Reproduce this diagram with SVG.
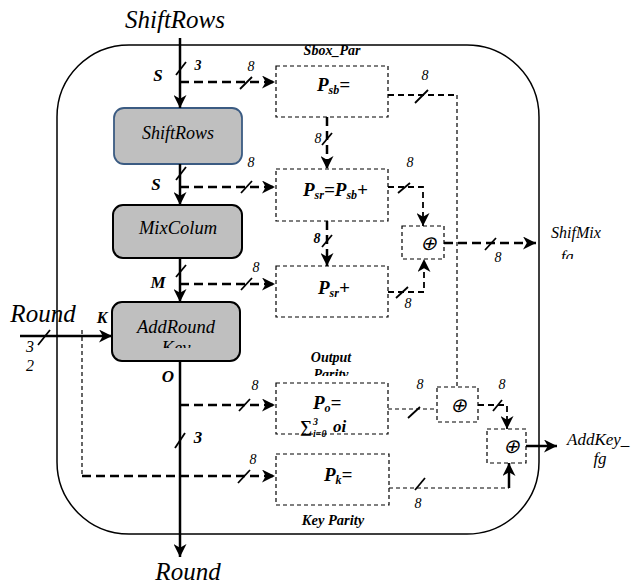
<svg xmlns="http://www.w3.org/2000/svg" width="636" height="586" viewBox="0 0 636 586">
<style>
text{font-family:"Liberation Serif","Times New Roman",serif;font-style:italic;fill:#000}
.b{font-weight:bold}
.big{font-size:25px}
.lbl{font-size:14px}
.box{fill:#bfbfbf;stroke:#000;stroke-width:2}
.pbox{fill:none;stroke:#000;stroke-width:1.2;stroke-dasharray:4 3}
.solid{fill:none;stroke:#000;stroke-width:2.5}
.thick{fill:none;stroke:#000;stroke-width:2.5;stroke-dasharray:9 5}
.med{fill:none;stroke:#000;stroke-width:1.8;stroke-dasharray:6 4}
.thin{fill:none;stroke:#000;stroke-width:1.2;stroke-dasharray:4 3}
.sl{stroke:#000;stroke-width:1.8}
</style>
<defs>
<marker id="ah" viewBox="0 0 12 12" refX="12" refY="6" markerWidth="13" markerHeight="13" markerUnits="userSpaceOnUse" orient="auto">
<path d="M0,0 L12,6 L0,12 L3.5,6 z" fill="#000"/>
</marker>
<clipPath id="cParity"><rect x="290" y="360" width="90" height="16"/></clipPath>
<clipPath id="cKey"><rect x="120" y="335" width="110" height="13"/></clipPath>
<clipPath id="cFg"><rect x="550" y="245" width="40" height="14"/></clipPath>
</defs>

<rect x="57" y="45" width="482" height="489" rx="72" fill="none" stroke="#000" stroke-width="1.5"/>

<g id="title-top"><text class="big" x="175" y="28" text-anchor="middle">ShiftRows</text></g>
<g id="title-bottom"><text class="big" x="188" y="580" text-anchor="middle">Round</text></g>
<g id="title-round"><text class="big" x="43" y="322" text-anchor="middle">Round</text></g>

<g id="shiftrows"><rect x="114" y="108" width="128" height="56" rx="10" fill="#bfbfbf" stroke="#3b5b82" stroke-width="1.8"/><text x="178" y="139" font-size="18" text-anchor="middle">ShiftRows</text></g>
<g id="mixcolum"><rect class="box" x="113" y="205" width="129" height="53" rx="10"/><text x="178" y="234" font-size="18.5" text-anchor="middle">MixColum</text></g>
<g id="addround"><rect class="box" x="112" y="302" width="128" height="59" rx="10"/><text x="176" y="333" font-size="18.5" text-anchor="middle">AddRound</text><text x="176" y="354" font-size="18.5" text-anchor="middle" clip-path="url(#cKey)">Key</text></g>

<g id="psb"><rect class="pbox" x="276" y="66" width="112" height="51"/><text class="b" x="317" y="91" font-size="19">P<tspan font-size="12" dy="3">sb</tspan><tspan dy="-3">=</tspan></text><text class="b" x="332" y="55" font-size="14" text-anchor="middle">Sbox_Par</text></g>
<g id="psr"><rect class="pbox" x="276" y="169" width="112" height="52"/><text class="b" x="303" y="196" font-size="19">P<tspan font-size="12" dy="3">sr</tspan><tspan dy="-3">=P</tspan><tspan font-size="12" dy="3">sb</tspan><tspan dy="-3">+</tspan></text></g>
<g id="pmc"><rect class="pbox" x="276" y="266" width="112" height="51"/><text class="b" x="318" y="294" font-size="19">P<tspan font-size="12" dy="3">sr</tspan><tspan dy="-3">+</tspan></text></g>
<g id="po"><rect class="pbox" x="276" y="383" width="112" height="51"/><text class="b" x="313" y="409" font-size="19">P<tspan font-size="12" dy="3">o</tspan><tspan dy="-3">=</tspan></text><text class="b" x="300" y="432" font-size="17">∑<tspan font-size="10" x="313" y="425">3</tspan><tspan font-size="10" x="313" y="437">i=0</tspan><tspan x="333" y="432">oi</tspan></text><text class="b" x="331" y="362" font-size="14" text-anchor="middle">Output</text><text class="b" x="331" y="379" font-size="14" text-anchor="middle" clip-path="url(#cParity)">Parity</text></g>
<g id="pk"><rect class="pbox" x="276" y="454" width="113" height="51"/><text class="b" x="324" y="481" font-size="19">P<tspan font-size="12" dy="3">k</tspan><tspan dy="-3">=</tspan></text><text class="b" x="333" y="525" font-size="14.5" text-anchor="middle">Key Parity</text></g>

<g id="xor1"><rect class="pbox" x="402" y="226" width="42" height="33"/><text x="428" y="250" font-size="20" font-style="normal" font-family="DejaVu Sans" text-anchor="middle">⊕</text></g>
<g id="xor2"><rect class="pbox" x="437" y="387" width="41" height="35"/><text x="458" y="412" font-size="20" font-style="normal" font-family="DejaVu Sans" text-anchor="middle">⊕</text></g>
<g id="xor3"><rect class="pbox" x="487" y="429" width="39" height="34"/><text x="511" y="453" font-size="20" font-style="normal" font-family="DejaVu Sans" text-anchor="middle">⊕</text></g>

<g id="out-shifmix"><text x="551" y="238" font-size="16">ShifMix</text><text x="561" y="262" font-size="16" clip-path="url(#cFg)">fg</text></g>
<g id="out-addkey"><text x="567" y="445" font-size="17">AddKey_</text><text x="600" y="464" font-size="17" text-anchor="middle">fg</text></g>

<g id="connectors">
<path class="solid" d="M180,38 V108" marker-end="url(#ah)"/>
<path class="solid" d="M180,164 V205" marker-end="url(#ah)"/>
<path class="solid" d="M180,258 V302" marker-end="url(#ah)"/>
<path class="solid" d="M180,361 V557" marker-end="url(#ah)"/>
<path class="solid" d="M20,336 H112" marker-end="url(#ah)"/>

<path class="thick" d="M180,82 H275" marker-end="url(#ah)"/>
<path class="thick" d="M180,187 H275" marker-end="url(#ah)"/>
<path class="thick" d="M180,284 H275" marker-end="url(#ah)"/>
<path class="thick" d="M180,405 H275" marker-end="url(#ah)"/>
<path class="thin" d="M82,330 V476"/>
<path class="thick" d="M82,476 H275" marker-end="url(#ah)"/>

<path class="thick" d="M327,117 V169" marker-end="url(#ah)"/>
<path class="thick" d="M327,221 V266" marker-end="url(#ah)"/>

<path class="med" d="M388,95 H457"/>
<path class="thin" d="M457,95 V387"/>
<path class="med" d="M388,187 H423 V226" marker-end="url(#ah)"/>
<path class="med" d="M388,292 H424 V259" marker-end="url(#ah)"/>
<path class="thick" d="M444,243 H536" marker-end="url(#ah)"/>

<path class="thin" d="M388,409 H437"/>
<path class="med" d="M478,405 H507 V429" marker-end="url(#ah)"/>
<path class="thin" d="M389,488 H509"/>
<path class="solid" d="M509,488 V463" stroke-width="2" marker-end="url(#ah)"/>
<path class="solid" d="M526,446 H557" marker-end="url(#ah)"/>

<g id="slashes">
<line class="sl" x1="176" y1="75" x2="186" y2="62"/>
<line class="sl" x1="176" y1="180" x2="186" y2="167"/>
<line class="sl" x1="176" y1="277" x2="186" y2="265"/>
<line class="sl" x1="175" y1="448" x2="185" y2="433"/>
<line class="sl" x1="240" y1="89" x2="252" y2="77"/>
<line class="sl" x1="241" y1="193" x2="252" y2="181"/>
<line class="sl" x1="241" y1="290" x2="252" y2="278"/>
<line class="sl" x1="239" y1="411" x2="250" y2="399"/>
<line class="sl" x1="238" y1="483" x2="250" y2="470"/>
<line class="sl" x1="322" y1="145" x2="332" y2="133"/>
<line class="sl" x1="322" y1="247" x2="332" y2="235"/>
<line class="sl" x1="415" y1="103" x2="428" y2="90"/>
<line class="sl" x1="398" y1="193" x2="410" y2="183"/>
<line class="sl" x1="396" y1="298" x2="408" y2="287"/>
<line class="sl" x1="485" y1="250" x2="496" y2="238"/>
<line class="sl" x1="408" y1="418" x2="420" y2="407"/>
<line class="sl" x1="493" y1="411" x2="502" y2="400"/>
<line class="sl" x1="415" y1="490" x2="425" y2="478"/>
<line class="sl" x1="38" y1="345" x2="50" y2="330"/>
</g>

<g id="labels">
<text class="b" x="158" y="81" font-size="17" text-anchor="middle">S</text>
<text class="b" x="198" y="70" font-size="14" text-anchor="middle">3</text>
<text class="b" x="156" y="190" font-size="17" text-anchor="middle">S</text>
<text class="b" x="158" y="288" font-size="17" text-anchor="middle">M</text>
<text class="b" x="102" y="323" font-size="16" text-anchor="middle">K</text>
<text class="b" x="168" y="382" font-size="17" text-anchor="middle">O</text>
<text class="b" x="198" y="443" font-size="17" text-anchor="middle">3</text>
<text x="30" y="352" font-size="16" text-anchor="middle">3</text>
<text x="30" y="371" font-size="16" text-anchor="middle">2</text>
<text class="lbl" x="251" y="71" text-anchor="middle">8</text>
<text class="lbl" x="251" y="167" text-anchor="middle">8</text>
<text class="lbl" x="256" y="272" text-anchor="middle">8</text>
<text class="lbl" x="255" y="390" text-anchor="middle">8</text>
<text class="lbl" x="253" y="464" text-anchor="middle">8</text>
<text class="lbl" x="318" y="143" text-anchor="middle">8</text>
<text class="lbl b" x="317" y="243" font-size="16" text-anchor="middle">8</text>
<text class="lbl" x="425" y="80" text-anchor="middle">8</text>
<text class="lbl" x="410" y="167" text-anchor="middle">8</text>
<text class="lbl" x="408" y="308" text-anchor="middle">8</text>
<text class="lbl" x="498" y="262" text-anchor="middle">8</text>
<text class="lbl" x="420" y="389" text-anchor="middle">8</text>
<text class="lbl" x="502" y="389" text-anchor="middle">8</text>
<text class="lbl" x="418" y="508" text-anchor="middle">8</text>
</g>
</g>
</svg>
